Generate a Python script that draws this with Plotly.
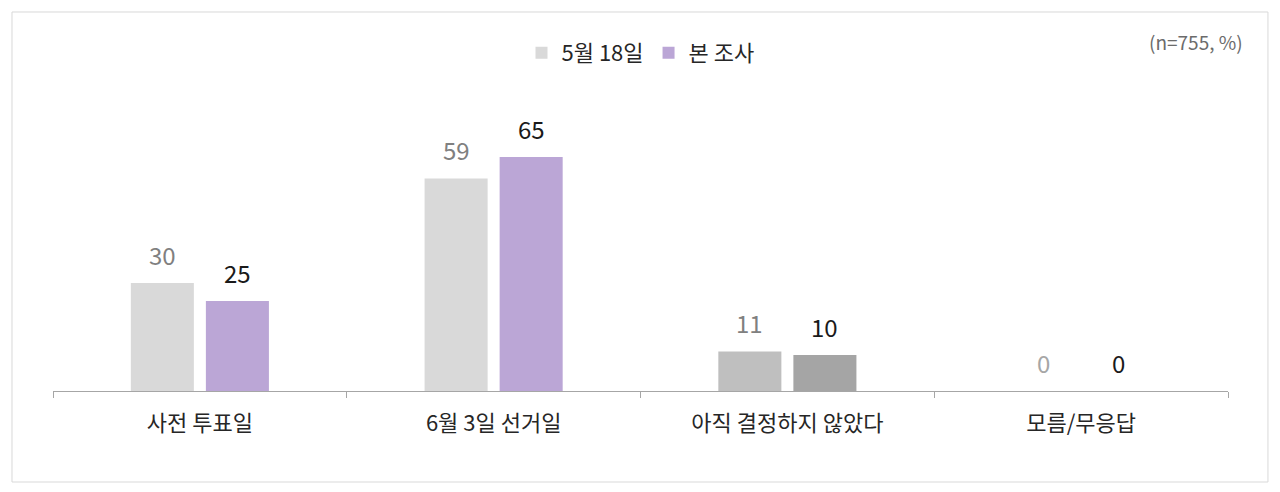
import plotly.graph_objects as go

categories = ["사전 투표일", "6월 3일 선거일", "아직 결정하지 않았다", "모름/무응답"]
may18 = [30, 59, 11, 0]
current = [25, 65, 10, 0]
series_names = ["5월 18일", "본 조사"]

FONT = "Noto Sans CJK KR"

may18_colors = ["#D9D9D9", "#D9D9D9", "#BFBFBF", "#D9D9D9"]
current_colors = ["#BBA6D6", "#BBA6D6", "#A5A5A5", "#BBA6D6"]
may18_text = ["#808080", "#808080", "#808080", "#A6A6A6"]

fig = go.Figure()

fig.add_trace(
    go.Bar(
        x=categories,
        y=may18,
        name=series_names[0],
        marker=dict(color=may18_colors, line=dict(width=0)),
    )
)
fig.add_trace(
    go.Bar(
        x=categories,
        y=current,
        name=series_names[1],
        marker=dict(color=current_colors, line=dict(width=0)),
    )
)

# value labels, a bit higher above the bars than plotly's own outside text
for cat, v, c in zip(categories, may18, may18_text):
    fig.add_annotation(
        x=cat, y=v, text=str(v), showarrow=False,
        xshift=-37.5, yshift=29, yanchor="middle",
        font=dict(size=24, color=c, family=FONT),
    )
for cat, v in zip(categories, current):
    fig.add_annotation(
        x=cat, y=v, text=str(v), showarrow=False,
        xshift=37.5, yshift=29, yanchor="middle",
        font=dict(size=24, color="#1a1a1a", family=FONT),
    )

# outer frame
fig.add_shape(
    type="rect", xref="paper", yref="paper",
    x0=-0.0349, x1=1.034, y0=-0.316, y1=1.316,
    line=dict(color="#D9D9D9", width=1),
)

fig.add_annotation(
    text="(n=755, %)", xref="paper", yref="paper",
    x=1.0145, y=1.212, xanchor="right", yanchor="middle",
    showarrow=False, font=dict(size=19, color="#6b6b6b", family=FONT),
)

fig.update_layout(
    width=1264,
    height=476,
    margin=dict(l=45, r=44, t=95, b=93),
    plot_bgcolor="white",
    paper_bgcolor="white",
    font=dict(family=FONT, color="#262626"),
    barmode="group",
    bargap=0.489,
    bargroupgap=0.16,
    legend=dict(
        orientation="h",
        x=0.5, xanchor="center",
        y=1.174, yanchor="middle",
        font=dict(size=22, family=FONT, color="#262626"),
        itemwidth=30,
    ),
)
fig.update_xaxes(
    showline=True, linecolor="#A6A6A6", linewidth=1.3,
    ticks="outside", tickson="boundaries", ticklen=6, tickcolor="#A6A6A6",
    tickfont=dict(size=22, family=FONT, color="#262626"),
    ticklabelstandoff=12,
    showgrid=False,
)
fig.update_yaxes(range=[0, 80], visible=False, showgrid=False)

fig.write_html("out.html")
